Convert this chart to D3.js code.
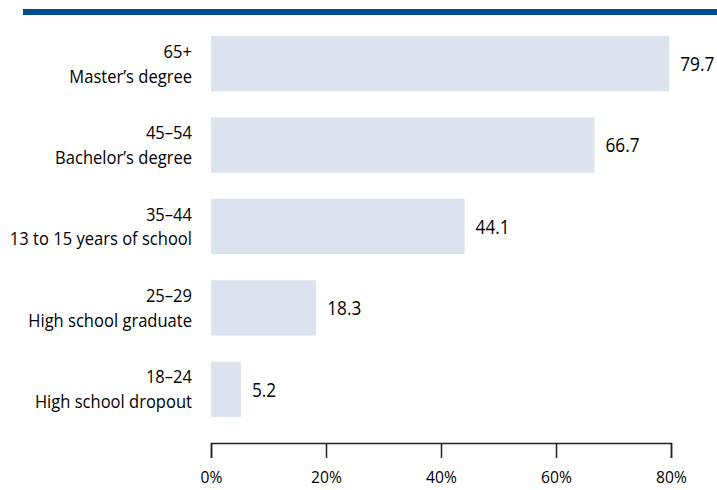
<!DOCTYPE html>
<html>
<head>
<meta charset="utf-8">
<script src="https://cdn.jsdelivr.net/npm/d3@7"></script>
<style>
  html, body { margin: 0; padding: 0; background: #ffffff; }
  svg { display: block; font-family: "Open Sans", "Noto Sans", sans-serif; }
</style>
</head>
<body>
<svg id="chart" width="717" height="490"></svg>
<script>
// Age groups and schooling levels, top bar first
const ageGroups = ["65+", "45–54", "35–44", "25–29", "18–24"];
const schooling = ["Master’s degree", "Bachelor’s degree", "13 to 15 years of school", "High school graduate", "High school dropout"];
const values = [79.7, 66.7, 44.1, 18.3, 5.2];
const tickValues = [0, 20, 40, 60, 80];

const rows = values.map((v, i) => ({ age: ageGroups[i], school: schooling[i], value: v, key: i }));

const svg = d3.select("#chart");

// Narrowed glyphs give the type a condensed look
const squeezeLabel = 0.92;
const squeezeValue = 0.86;
const squeezeTick = 0.92;

// Heavy rule across the top
svg.append("rect")
  .attr("x", 23).attr("y", 9)
  .attr("width", 717 - 23).attr("height", 6)
  .attr("fill", "#004b8d");

const x = d3.scaleLinear().domain([0, 80]).range([211, 671]);
const y = d3.scaleBand().domain(rows.map(d => d.key)).range([36, 417]).paddingInner(0.32).paddingOuter(0);

// Bars
svg.append("g").selectAll("rect")
  .data(rows).join("rect")
  .attr("x", x(0))
  .attr("y", d => y(d.key))
  .attr("width", d => x(d.value) - x(0))
  .attr("height", y.bandwidth())
  .attr("fill", "#dae3ee");

// Value labels
svg.append("g").selectAll("text")
  .data(rows).join("text")
  .attr("transform", d => `translate(${x(d.value) + 11},${y(d.key) + y.bandwidth() / 2}) scale(${squeezeValue},1)`)
  .attr("dy", "0.36em")
  .attr("font-size", 20)
  .attr("fill", "#000")
  .text(d => d.value.toFixed(1));

// Two-line category labels
const labels = svg.append("g").selectAll("text")
  .data(rows).join("text")
  .attr("transform", d => `translate(192,${y(d.key) + y.bandwidth() / 2}) scale(${squeezeLabel},1)`)
  .attr("text-anchor", "end")
  .attr("font-size", 18)
  .attr("fill", "#000");
labels.append("tspan")
  .attr("x", 0)
  .attr("y", -6)
  .text(d => d.age);
labels.append("tspan")
  .attr("x", 0)
  .attr("y", 19)
  .text(d => d.school);

// Bottom axis
const axis = d3.axisBottom(x)
  .tickValues(tickValues)
  .tickSize(15)
  .tickSizeOuter(15)
  .tickPadding(13)
  .tickFormat(d => d + "%");

const gAxis = svg.append("g")
  .attr("transform", "translate(0,443)")
  .call(axis);
gAxis.select(".domain").attr("stroke", "#222").attr("stroke-width", 1.5);
gAxis.selectAll(".tick line").attr("stroke", "#222").attr("stroke-width", 1.5);
gAxis.selectAll(".tick text")
  .attr("font-size", 17)
  .attr("transform", `scale(${squeezeTick},1)`)
  .attr("font-family", "\"Open Sans\", \"Noto Sans\", sans-serif")
  .attr("fill", "#000");
</script>
</body>
</html>
